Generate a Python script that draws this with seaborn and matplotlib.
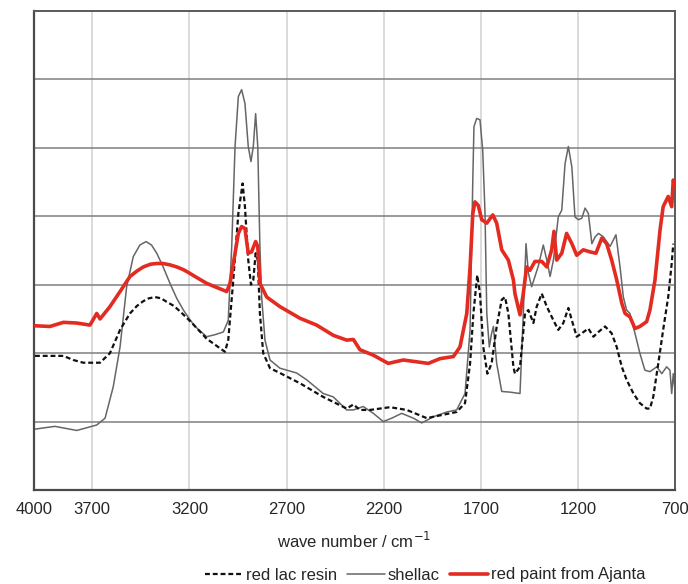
import matplotlib
matplotlib.use("Agg")
import matplotlib.pyplot as plt
import numpy as np
import pandas as pd
import seaborn as sns

# FTIR spectra: wavenumber (cm^-1) and absorbance (arbitrary, offset units)
lac_wn = [3995, 3849, 3798, 3746, 3660, 3609, 3557, 3506, 3470, 3437, 3410, 3377,
          3345, 3317, 3280, 3248, 3215,
          3180, 3111, 3017, 3000, 2974, 2948, 2926, 2914, 2897, 2883, 2871, 2859,
          2848, 2837, 2820, 2785, 2734, 2631, 2511, 2390, 2356, 2322, 2270, 2167,
          2081, 1978, 1893, 1824, 1781, 1755, 1738, 1718, 1704, 1687, 1666, 1644,
          1618, 1592, 1575, 1558, 1532, 1524, 1498, 1472, 1455, 1429, 1412, 1386,
          1360, 1326, 1301, 1275, 1249, 1231, 1206, 1180, 1146, 1120, 1094, 1060,
          1026, 1000, 974, 949, 914, 881, 846, 829, 812, 786, 761, 735, 717, 709]
lac_abs = [1.96, 1.96, 1.90, 1.86, 1.86, 2.00, 2.34, 2.58, 2.69, 2.76, 2.80, 2.82,
           2.80, 2.75, 2.69, 2.61, 2.52,
           2.42, 2.21, 2.02, 2.19, 3.07, 4.04, 4.48, 4.14, 3.36, 3.00, 3.07, 3.46,
           3.36, 2.58, 2.00, 1.78, 1.71, 1.56, 1.36, 1.19, 1.25, 1.17, 1.17, 1.21,
           1.17, 1.05, 1.10, 1.14, 1.27, 1.85, 2.58, 3.14, 2.87, 2.09, 1.70, 1.85,
           2.39, 2.78, 2.82, 2.58, 1.80, 1.70, 1.80, 2.58, 2.63, 2.44, 2.68, 2.87,
           2.68, 2.48, 2.34, 2.44, 2.66, 2.48, 2.24, 2.29, 2.36, 2.24, 2.31, 2.39,
           2.29, 2.09, 1.80, 1.61, 1.41, 1.27, 1.19, 1.19, 1.36, 1.85, 2.34, 2.82,
           3.31, 3.60]

shellac_wn = [3995, 3892, 3780, 3677, 3634, 3592, 3557, 3523, 3489, 3455, 3423,
              3395, 3368, 3335,
              3300, 3265, 3231, 3200, 3171, 3111, 3068, 3025, 3000, 2982, 2965, 2948,
              2931, 2914, 2897, 2883, 2871, 2859, 2848, 2837, 2828, 2811, 2785, 2734,
              2648, 2596, 2511, 2459, 2390, 2356, 2305, 2253, 2202, 2158, 2107,
              2047, 2004, 1944, 1875, 1824, 1781, 1755, 1741, 1735, 1721, 1704,
              1690, 1678, 1669, 1656, 1644, 1635, 1618, 1592, 1549, 1498, 1481,
              1467, 1455, 1438, 1421, 1404, 1378, 1360, 1343, 1326, 1301, 1283,
              1266, 1249, 1231, 1215, 1198, 1180, 1163, 1146, 1128, 1111, 1094,
              1069, 1034, 1004, 983, 966, 949, 932, 906, 881, 855, 829, 794, 768,
              743, 726, 717, 709, 700]
shellac_abs = [0.89, 0.93, 0.87, 0.95, 1.05, 1.51, 2.09, 2.97, 3.41, 3.58, 3.63,
               3.58, 3.46, 3.26,
               3.02, 2.80, 2.63, 2.50, 2.39, 2.24, 2.27, 2.31, 2.48, 3.56, 5.02, 5.75,
               5.85, 5.65, 5.02, 4.80, 5.02, 5.50, 5.02, 3.56, 2.82, 2.19, 1.90, 1.78,
               1.71, 1.61, 1.41, 1.36, 1.17, 1.17, 1.22, 1.12, 1.00, 1.05, 1.12,
               1.05, 0.98, 1.07, 1.14, 1.17, 1.41, 2.34, 4.53, 5.31, 5.43, 5.41,
               4.97, 4.04, 2.58, 2.09, 2.29, 2.39, 1.85, 1.44, 1.43, 1.41, 2.58,
               3.60, 3.17, 2.97, 3.12, 3.27, 3.58, 3.36, 3.12, 3.36, 3.99, 4.09,
               4.77, 5.02, 4.72, 3.99, 3.95, 3.97, 4.12, 4.04, 3.60, 3.70, 3.75,
               3.70, 3.56, 3.73, 3.26, 2.82, 2.63, 2.58, 2.29, 2.00, 1.75, 1.73,
               1.80, 1.70, 1.80, 1.75, 1.41, 1.70, 1.45]

ajanta_wn = [3995, 3918, 3849, 3780, 3712, 3677, 3660, 3609, 3557, 3506, 3470,
             3437, 3400, 3368, 3335, 3300, 3265, 3231, 3200, 3171, 3111, 3008,
             2991, 2965, 2948, 2931, 2914,
             2897, 2880, 2859, 2848, 2837, 2802, 2734, 2631, 2545, 2459, 2390,
             2356, 2322, 2253, 2176, 2099, 1970, 1910, 1841, 1807, 1772, 1755,
             1741, 1730, 1713, 1695, 1669, 1638, 1618, 1592, 1558, 1532, 1524,
             1498, 1481, 1464, 1447, 1421, 1386, 1360, 1335, 1323, 1309, 1283,
             1258, 1231, 1206, 1172, 1138, 1107, 1077, 1052, 1026, 1000, 974,
             957, 932, 906, 881, 846, 829, 803, 777, 761, 735, 717, 709, 700]
ajanta_abs = [2.40, 2.39, 2.45, 2.44, 2.41, 2.58, 2.50, 2.68, 2.90, 3.12, 3.20,
              3.26, 3.30, 3.31, 3.31, 3.29, 3.26, 3.22, 3.17, 3.12, 3.02, 2.90,
              3.02, 3.46, 3.75, 3.85, 3.82,
              3.46, 3.48, 3.63, 3.56, 3.02, 2.82, 2.68, 2.51, 2.41, 2.26, 2.19,
              2.20, 2.05, 1.97, 1.85, 1.90, 1.85, 1.92, 1.95, 2.09, 2.58, 3.26,
              4.04, 4.21, 4.16, 3.95, 3.90, 4.02, 3.90, 3.51, 3.36, 3.07, 2.87,
              2.56, 2.87, 3.26, 3.21, 3.34, 3.34, 3.26, 3.51, 3.78, 3.36, 3.46,
              3.75, 3.60, 3.43, 3.51, 3.48, 3.46, 3.68, 3.60, 3.36, 3.07, 2.73,
              2.58, 2.53, 2.36, 2.39, 2.46, 2.63, 3.07, 3.80, 4.14, 4.29, 4.14,
              4.53, 4.45]

x_ticks = [4000, 3700, 3200, 2700, 2200, 1700, 1200, 700]
y_grid = [1, 2, 3, 4, 5, 6]

sns.set_theme(style="white")
plt.rcParams["font.family"] = ["Liberation Sans", "DejaVu Sans"]

fig = plt.figure(figsize=(6.88, 5.84), dpi=100)
ax = fig.add_axes([34 / 688, 1 - 490 / 584, 641 / 688, 479 / 584])

# grid: light vertical lines, darker horizontal lines
for xv in x_ticks[1:-1]:
    ax.axvline(xv, color="#d4d4d4", lw=1.2, zorder=0)
for yv in y_grid:
    ax.axhline(yv, color="#7f7f7f", lw=1.1, zorder=0)

lac = pd.DataFrame({"wn": lac_wn, "abs": lac_abs})
shellac = pd.DataFrame({"wn": shellac_wn, "abs": shellac_abs})
ajanta = pd.DataFrame({"wn": ajanta_wn, "abs": ajanta_abs})

sns.lineplot(data=shellac, x="wn", y="abs", ax=ax, color="#666666", lw=1.1,
             estimator=None, sort=False, label="shellac", zorder=2)
sns.lineplot(data=lac, x="wn", y="abs", ax=ax, color="#111111", lw=1.6,
             estimator=None, sort=False, label="red lac resin", zorder=3)
ax.lines[-1].set_dashes((2.2, 1.3))
sns.lineplot(data=ajanta, x="wn", y="abs", ax=ax, color="#e32b22", lw=2.6,
             estimator=None, sort=False, label="red paint from Ajanta", zorder=4)
for ln in ax.lines:
    ln.set_solid_joinstyle("round")

ax.set_xlim(4000, 700)
ax.set_ylim(0, 7)
ax.set_xticks(x_ticks)
ax.set_xticklabels([str(t) for t in x_ticks], fontsize=12)
ax.set_yticks([])
ax.set_ylabel("")
ax.set_xlabel("wave number / cm$^{-1}$", fontsize=12, labelpad=10)
ax.tick_params(axis="x", length=0, pad=9)

for side in ["left", "bottom"]:
    ax.spines[side].set_color("#4a4a4a")
    ax.spines[side].set_linewidth(1.6)
for side in ["top", "right"]:
    ax.spines[side].set_color("#5a5a5a")
    ax.spines[side].set_linewidth(1.4)

handles, labels = ax.get_legend_handles_labels()
order = [labels.index("red lac resin"), labels.index("shellac"),
         labels.index("red paint from Ajanta")]
ax.get_legend().remove()
fig.legend([handles[i] for i in order], [labels[i] for i in order],
           loc="center", bbox_to_anchor=(425 / 688, 1 - 575 / 584), ncol=3,
           frameon=False, fontsize=12, handlelength=2.3, handletextpad=0.15,
           columnspacing=0.6, borderaxespad=0)

fig.savefig("out.png", dpi=100)
